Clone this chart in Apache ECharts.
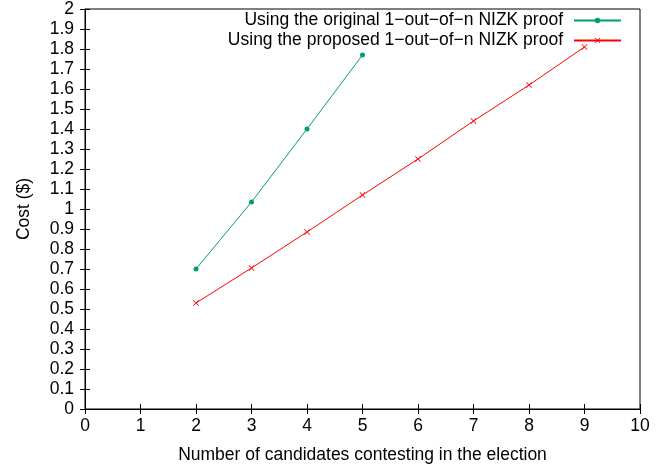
<!DOCTYPE html>
<html><head><meta charset="utf-8">
<script src="https://cdn.jsdelivr.net/npm/echarts@6/dist/echarts.min.js"></script>
<style>html,body{margin:0;padding:0;background:#fff}#c{width:657px;height:467px}</style>
</head><body><div id="c"></div>
<script>
const candidatesOriginal = [2, 3, 4, 5];
const costOriginal = [0.70, 1.035, 1.40, 1.77];
const candidatesProposed = [2, 3, 4, 5, 6, 7, 8, 9];
const costProposed = [0.53, 0.705, 0.885, 1.07, 1.25, 1.44, 1.62, 1.81];
const seriesNames = ['Using the original 1\u2212out\u2212of\u2212n NIZK proof', 'Using the proposed 1\u2212out\u2212of\u2212n NIZK proof'];
const xTitle = 'Number of candidates contesting in the election';
const yTitle = 'Cost ($)';

const font = 'Liberation Sans, Arial, sans-serif';
const fs = 17.5;
const crossPath = 'path://M0,1L1,0L5,4L9,0L10,1L6,5L10,9L9,10L5,6L1,10L0,9L4,5Z';
const chart = echarts.init(document.getElementById('c'));
const axLine = {show: true, lineStyle: {color: '#000', width: 1}};
const tick = {show: true, inside: true, length: 5, lineStyle: {color: '#000'}};
chart.setOption({
  animation: false,
  textStyle: {fontFamily: font},
  grid: {left: 85, right: 17, top: 9, bottom: 58, show: true, borderColor: '#000', borderWidth: 1,
         containLabel: false, outerBoundsMode: 'none'},
  legend: {
    orient: 'vertical', right: 35, top: 11, align: 'right', itemGap: 1, padding: 0,
    itemWidth: 47, itemHeight: 7,
    textStyle: {fontSize: fs, color: '#000', fontFamily: font, padding: [0, 6, 0, 0], lineHeight: 19},
    data: seriesNames
  },
  xAxis: [{
    type: 'value', min: 0, max: 10, interval: 1,
    name: xTitle, nameLocation: 'middle', nameGap: 37,
    nameTextStyle: {fontSize: fs, color: '#000'},
    axisLine: axLine, axisTick: tick, splitLine: {show: false},
    axisLabel: {fontSize: fs, color: '#000', margin: 8}
  }, {
    type: 'value', min: 0, max: 10, interval: 1, position: 'top',
    axisLine: axLine, axisTick: tick, splitLine: {show: false}, axisLabel: {show: false}
  }],
  yAxis: [{
    type: 'value', min: 0, max: 2, interval: 0.1,
    name: yTitle, nameLocation: 'middle', nameGap: 52,
    nameTextStyle: {fontSize: fs, color: '#000'},
    axisLine: axLine, axisTick: tick, splitLine: {show: false},
    axisLabel: {fontSize: fs, color: '#000', margin: 11, formatter: v => String(+v.toFixed(1))}
  }, {
    type: 'value', min: 0, max: 2, interval: 0.1, position: 'right',
    axisLine: axLine, axisTick: tick, splitLine: {show: false}, axisLabel: {show: false}
  }],
  series: [{
    name: seriesNames[0], type: 'line',
    data: candidatesOriginal.map((x, i) => [x, costOriginal[i]]),
    symbol: 'circle', symbolSize: 5,
    lineStyle: {color: '#009e73', width: 1},
    itemStyle: {color: '#009e73'}
  }, {
    name: seriesNames[1], type: 'line',
    data: candidatesProposed.map((x, i) => [x, costProposed[i]]),
    symbol: crossPath, symbolSize: 6,
    lineStyle: {color: '#ff0000', width: 1},
    itemStyle: {color: '#ff0000'}
  }]
});
</script></body></html>
